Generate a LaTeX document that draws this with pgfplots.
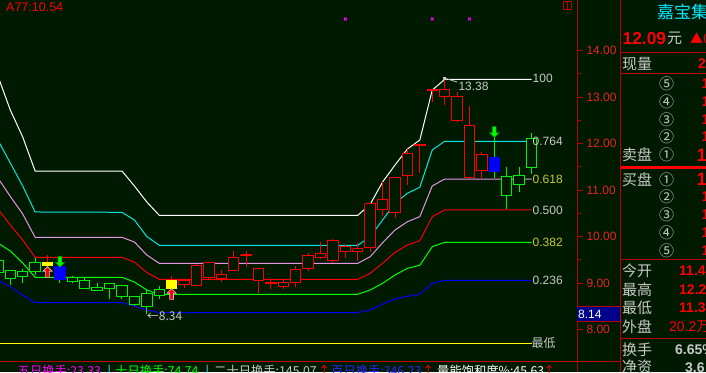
\documentclass[border=0pt]{standalone}
\usepackage{pgfplots}
\pgfplotsset{compat=1.18}
\usepackage{fontspec}
\setmainfont{Liberation Sans}
\newfontfamily\cjk{Noto Sans CJK SC}
\definecolor{bg}{RGB}{0,26,0}
\definecolor{axred}{RGB}{190,0,0}
\definecolor{labred}{RGB}{235,35,35}
\definecolor{cred}{RGB}{255,0,0}
\definecolor{cgreen}{RGB}{0,240,0}
\definecolor{lgreen}{RGB}{0,255,0}
\definecolor{lcyan}{RGB}{0,230,230}
\definecolor{lpink}{RGB}{230,150,230}
\definecolor{lblue}{RGB}{0,0,255}
\definecolor{cyellow}{RGB}{255,255,0}
\definecolor{tgrey}{RGB}{200,200,200}
\definecolor{tolive}{RGB}{200,200,50}
\definecolor{tmag}{RGB}{255,0,255}
\definecolor{navy}{RGB}{0,0,140}
\definecolor{pcyan}{RGB}{0,230,255}
\definecolor{arrcyan}{RGB}{120,220,255}
\definecolor{bblue}{RGB}{40,40,255}

\pgfdeclareplotmark{uparr}{%
 \pgfpathmoveto{\pgfqpoint{0pt}{5.4pt}}%
 \pgfpathlineto{\pgfqpoint{4.6pt}{0.8pt}}%
 \pgfpathlineto{\pgfqpoint{1.9pt}{0.8pt}}%
 \pgfpathlineto{\pgfqpoint{1.9pt}{-5.4pt}}%
 \pgfpathlineto{\pgfqpoint{-1.9pt}{-5.4pt}}%
 \pgfpathlineto{\pgfqpoint{-1.9pt}{0.8pt}}%
 \pgfpathlineto{\pgfqpoint{-4.6pt}{0.8pt}}%
 \pgfpathclose\pgfusepathqfillstroke}
\pgfdeclareplotmark{dnarr}{%
 \pgfpathmoveto{\pgfqpoint{0pt}{-5.4pt}}%
 \pgfpathlineto{\pgfqpoint{4.6pt}{-0.8pt}}%
 \pgfpathlineto{\pgfqpoint{1.9pt}{-0.8pt}}%
 \pgfpathlineto{\pgfqpoint{1.9pt}{5.4pt}}%
 \pgfpathlineto{\pgfqpoint{-1.9pt}{5.4pt}}%
 \pgfpathlineto{\pgfqpoint{-1.9pt}{-0.8pt}}%
 \pgfpathlineto{\pgfqpoint{-4.6pt}{-0.8pt}}%
 \pgfpathclose\pgfusepathqfillstroke}

% #1 wick colour, #2 body outline, #3 body fill, #4 index, #5 body top, #6 body bottom, #7 high, #8 low
\newcommand\candle[8]{%
 \pgfmathsetmacro\xa{#4-0.42}\pgfmathsetmacro\xb{#4+0.42}%
 \edef\temp{\noexpand\addplot[#1,line width=1pt,forget plot] coordinates {(#4,#7) (#4,#8)};
 \noexpand\addplot[draw=#2,fill=#3,line width=1pt,line join=miter,forget plot] coordinates {(\xa,#5) (\xb,#5) (\xb,#6) (\xa,#6) (\xa,#5)};}%
 \temp}

\begin{document}
\begin{tikzpicture}
\useasboundingbox (0,0) rectangle (706pt,372pt);
\clip (0,0) rectangle (706pt,372pt);
\fill[bg] (0,0) rectangle (706pt,372pt);
\begin{axis}[at={(0pt,0pt)}, anchor=south west,
 width=577pt, height=372pt, scale only axis,
 xmin=-0.83, xmax=45.665, ymin=7.0897, ymax=15.0897,
 axis x line=none, axis y line*=right,
 axis line style={axred, line width=1pt, -},
 ytick={8,9,...,14}, minor ytick={8.5,9.5,...,13.5},
 tick align=outside, major tick length=6pt, minor tick length=3.5pt,
 tick style={axred, line width=1pt},
 /pgf/number format/assume math mode=true,
 yticklabel={\pgfmathprintnumber[fixed,fixed zerofill,precision=2]{\tick}},
 yticklabel style={text=labred, font=\fontsize{12}{12}\selectfont},
 clip=true]

% Fibonacci channel lines
\addplot[white, line width=1pt] coordinates {(-1,13.455) (0,12.724) (1,12.144) (2,11.412) (9,11.412) (10,11.090) (11,10.746) (12,10.460) (28,10.460) (29,10.696) (30,11.176) (31,11.541) (32,11.885) (33,12.079) (34,13.154) (35,13.38) (42,13.38)};
\addplot[lcyan, line width=1pt] coordinates {(-1,12.079) (0,11.584) (1,11.090) (2,10.531) (9,10.524) (10,10.358) (11,10.004) (12,9.814) (28,9.814) (29,10.0) (30,10.358) (31,10.718) (32,10.933) (33,11.062) (34,11.864) (35,12.051) (42,12.051)};
\addplot[lpink, line width=1pt] coordinates {(-1,11.262) (0,10.866) (1,10.488) (2,9.986) (9,9.986) (10,9.885) (11,9.606) (12,9.427) (28,9.427) (29,9.569) (30,9.870) (31,10.144) (32,10.322) (33,10.430) (34,11.090) (35,11.240) (42,11.240)};
\addplot[cred, line width=1pt] coordinates {(-1,10.595) (0,10.251) (1,9.928) (2,9.556) (9,9.556) (10,9.455) (11,9.229) (12,9.083) (28,9.083) (29,9.212) (30,9.427) (31,9.664) (32,9.821) (33,9.913) (34,10.430) (35,10.574) (42,10.574)};
\addplot[lgreen, line width=1pt] coordinates {(-1,9.864) (0,9.692) (1,9.434) (2,9.126) (9,9.126) (10,9.025) (11,8.853) (12,8.761) (28,8.761) (29,8.853) (30,8.997) (31,9.176) (32,9.320) (33,9.384) (34,9.784) (35,9.879) (42,9.879)};
\addplot[lblue, line width=1pt] coordinates {(-1,9.068) (0,8.918) (1,8.746) (2,8.580) (9,8.580) (10,8.509) (11,8.423) (12,8.369) (28,8.369) (29,8.423) (30,8.552) (31,8.660) (32,8.718) (33,8.767) (34,8.997) (35,9.062) (42,9.062)};
\addplot[cyellow, line width=1pt] coordinates {(-1,7.707) (42,7.707)};

% candles: green
\candle{cgreen}{cgreen}{bg}{-1}{9.498}{9.229}{9.498}{9.229}
\candle{cgreen}{cgreen}{bg}{0}{9.277}{9.096}{9.29}{8.967}
\candle{cgreen}{cgreen}{bg}{1}{9.255}{9.139}{9.311}{8.997}
\candle{cgreen}{cgreen}{bg}{2}{9.455}{9.247}{9.548}{9.169}
\candle{cgreen}{cgreen}{bg}{5}{9.126}{9.032}{9.161}{9.004}
\candle{cgreen}{cgreen}{bg}{6}{9.058}{8.881}{9.139}{8.881}
\candle{cgreen}{cgreen}{bg}{7}{8.911}{8.838}{8.997}{8.838}
\candle{cgreen}{cgreen}{bg}{8}{8.997}{8.881}{8.997}{8.666}
\candle{cgreen}{cgreen}{bg}{9}{8.954}{8.709}{8.954}{8.67}
\candle{cgreen}{cgreen}{bg}{10}{8.718}{8.552}{8.718}{8.509}
\candle{cgreen}{cgreen}{bg}{11}{8.782}{8.498}{8.853}{8.34}
\candle{cgreen}{cgreen}{bg}{12}{8.868}{8.739}{8.939}{8.649}
\candle{cgreen}{cgreen}{bg}{40}{11.294}{10.885}{11.492}{10.595}
\candle{cgreen}{cgreen}{bg}{41}{11.320}{11.122}{11.492}{10.967}
\candle{cgreen}{cgreen}{bg}{42}{12.118}{11.488}{12.229}{11.343}
% signal candles
\candle{cred}{cyellow}{cyellow}{3}{9.455}{9.376}{9.612}{9.376}
\candle{cred}{cyellow}{cyellow}{13}{9.068}{8.885}{9.154}{8.885}
\candle{cgreen}{lblue}{lblue}{4}{9.369}{9.083}{9.369}{8.993}
\candle{cgreen}{lblue}{lblue}{39}{11.713}{11.397}{12.150}{11.268}
% candles: red
\candle{cred}{cred}{bg}{14}{9.068}{8.976}{9.068}{8.903}
\candle{cred}{cred}{bg}{15}{9.384}{8.954}{9.412}{8.954}
\candle{cred}{cred}{bg}{16}{9.449}{9.126}{9.449}{9.090}
\candle{cred}{cred}{bg}{17}{9.197}{9.096}{9.284}{9.025}
\candle{cred}{cred}{bg}{18}{9.556}{9.268}{9.692}{9.268}
\candle{cred}{cred}{bg}{19}{9.609}{9.589}{9.692}{9.354}
\candle{cred}{cred}{bg}{20}{9.320}{9.053}{9.320}{8.795}
\candle{cred}{cred}{bg}{21}{9.020}{9.000}{9.068}{8.868}
\candle{cred}{cred}{bg}{22}{9.019}{8.933}{9.068}{8.881}
\candle{cred}{cred}{bg}{23}{9.298}{9.019}{9.369}{8.924}
\candle{cred}{cred}{bg}{24}{9.599}{9.311}{9.649}{9.268}
\candle{cred}{cred}{bg}{25}{9.642}{9.556}{9.885}{9.513}
\candle{cred}{cred}{bg}{26}{9.922}{9.492}{9.950}{9.440}
\candle{cred}{cred}{bg}{27}{9.793}{9.685}{9.853}{9.535}
\candle{cred}{cred}{bg}{28}{9.735}{9.685}{9.870}{9.483}
\candle{cred}{cred}{bg}{29}{10.703}{9.771}{10.703}{9.677}
\candle{cred}{cred}{bg}{30}{10.804}{10.589}{11.182}{10.445}
\candle{cred}{cred}{bg}{31}{11.277}{10.524}{11.277}{10.408}
\candle{cred}{cred}{bg}{32}{11.793}{11.320}{11.885}{11.111}
\candle{cred}{cred}{bg}{33}{11.988}{11.968}{11.988}{11.376}
\candle{cred}{cred}{bg}{34}{13.158}{13.138}{13.170}{12.890}
\candle{cred}{cred}{bg}{35}{13.169}{13.019}{13.38}{12.825}
\candle{cred}{cred}{bg}{36}{13.019}{12.509}{13.111}{12.466}
\candle{cred}{cred}{bg}{37}{12.395}{11.277}{12.810}{11.277}
\candle{cred}{cred}{bg}{38}{11.771}{11.423}{11.821}{11.268}

% signal arrows
\addplot[only marks, mark=uparr, mark options={fill=cred, draw=tgrey, line width=0.6pt}] coordinates {(3,9.240) (13,8.767)};
\addplot[only marks, mark=dnarr, mark options={fill=lgreen, draw={rgb,255:red,0;green,150;blue,0}, line width=0.6pt}] coordinates {(4,9.462) (39,12.251)};
% top markers
\addplot[only marks, mark=x, mark size=2pt, tmag, line width=1pt] coordinates {(27,14.681) (34,14.681) (37,14.681)};
% peak annotation
\addplot[tgrey, line width=0.8pt] coordinates {(35.05,13.40) (35.29,13.385) (35.7,13.35) (36.02,13.326)};
\addplot[only marks, mark=square*, mark size=1pt, tgrey] coordinates {(35,13.40)};

\node[anchor=west, inner sep=0, text=tgrey, font=\fontsize{12}{12}\selectfont] at (axis cs:36.1,13.24) {13.38};
\node[anchor=west, inner sep=0, text=tgrey, font=\cjk\fontsize{12}{12}\selectfont] at (axis cs:10.99,8.279) {←8.34};
\node[anchor=west, inner sep=0, text=tgrey, font=\fontsize{12}{12}\selectfont] at (axis cs:42.08,13.40) {100};
\node[anchor=west, inner sep=0, text=tgrey, font=\fontsize{12}{12}\selectfont] at (axis cs:42.08,12.051) {0.764};
\node[anchor=west, inner sep=0, text=tolive, font=\fontsize{12}{12}\selectfont] at (axis cs:42.08,11.240) {0.618};
\node[anchor=west, inner sep=0, text=tgrey, font=\fontsize{12}{12}\selectfont] at (axis cs:42.08,10.574) {0.500};
\node[anchor=west, inner sep=0, text=tolive, font=\fontsize{12}{12}\selectfont] at (axis cs:42.08,9.879) {0.382};
\node[anchor=west, inner sep=0, text=tgrey, font=\fontsize{12}{12}\selectfont] at (axis cs:42.08,9.062) {0.236};
\node[anchor=west, inner sep=0, text=tgrey, font=\cjk\fontsize{12}{12}\selectfont] at (axis cs:42.0,7.707) {最低};
\end{axis}

% interface elements in pixel coordinates
\begin{scope}[shift={(0pt,372pt)}, x=1pt, y=-1pt]
\node[anchor=west, inner sep=0, text=cred, font=\fontsize{12.5}{13}\selectfont] at (6,7) {A77:10.54};
\draw[axred, line width=1pt] (563.5,1.5) rectangle (571.5,10);
\draw[axred, line width=1pt] (567.5,1.5) -- (567.5,10);
\draw[axred, line width=1pt] (0,361.7) -- (620.5,361.7);
\draw[axred, line width=1pt] (620.5,0) -- (620.5,372);
% cursor price box
\fill[navy] (577,307) rectangle (620,321.5);
\draw[axred, line width=1pt] (577,306.7) -- (620,306.7) (577,321.7) -- (620,321.7);
\node[anchor=west, inner sep=0, text=white, font=\fontsize{12}{12}\selectfont] at (578,314.2) {8.14};
% bottom indicator line
\begin{scope}[every node/.style={anchor=base west, inner sep=0, font=\cjk\fontsize{12.3}{14}\selectfont}]
\node[text=tmag] at (17.5,375) {五日换手:23.33};
\node[text=arrcyan] at (103,375) {↓};
\node[text=lgreen] at (115,375) {十日换手:74.74};
\node[text=arrcyan] at (201,375) {↓};
\node[text=tgrey] at (214,375) {二十日换手:145.07};
\node[text=cred] at (318,375) {↑};
\node[text=bblue] at (331,375) {百日换手:346.23};
\node[text=cred] at (422,375) {↑};
\node[text=white] at (437,375) {量能饱和度\%:45.63};
\node[text=cred] at (543,375) {↑};
\end{scope}
% right quote panel
\draw[axred, line width=1pt] (620.5,52.3) -- (706,52.3) (620.5,73.3) -- (706,73.3) (620.5,260) -- (706,260) (620.5,338.3) -- (706,338.3);
\draw[cred, line width=3pt] (620.5,167.5) -- (706,167.5);
\node[anchor=west, inner sep=0, text=pcyan, font=\cjk\fontsize{17}{17}\selectfont] at (657,12) {嘉宝集团};
\node[anchor=west, inner sep=0, text=cred, font=\bfseries\fontsize{17.3}{17}\selectfont] at (622.5,38.5) {12.09};
\node[anchor=west, inner sep=0, text=tgrey, font=\cjk\fontsize{15}{15}\selectfont] at (667,38.5) {元};
\node[anchor=west, inner sep=0, text=cred, font=\cjk\fontsize{13}{13}\selectfont] at (690,38.5) {▲0.80};
\begin{scope}[every node/.style={anchor=west, inner sep=0, text=tgrey, font=\cjk\fontsize{15}{15}\selectfont}]
\node at (622,64) {现量};
\node at (659,84) {⑤};
\node at (659,102) {④};
\node at (659,119.5) {③};
\node at (659,137) {②};
\node at (622,155) {卖盘};
\node at (659,155) {①};
\node at (622,179.5) {买盘};
\node at (659,179.5) {①};
\node at (659,197) {②};
\node at (659,215) {③};
\node at (659,233) {④};
\node at (659,251) {⑤};
\node at (622,270.5) {今开};
\node at (622,290) {最高};
\node at (622,308) {最低};
\node at (622,326.5) {外盘};
\node at (622,350) {换手};
\node at (622,367) {净资};
\end{scope}
\begin{scope}[every node/.style={anchor=west, inner sep=0, text=cred, font=\bfseries\fontsize{14}{14}\selectfont}]
\node at (698,64) {231};
\node at (701.5,84) {12.14};
\node at (701.5,102) {12.13};
\node at (701.5,119.5) {12.12};
\node at (701.5,137) {12.11};
\node at (701.5,197) {12.08};
\node at (701.5,215) {12.07};
\node at (701.5,233) {12.06};
\node at (701.5,251) {12.05};
\node[font=\bfseries\fontsize{18}{18}\selectfont] at (696.5,155) {12.10};
\node[font=\bfseries\fontsize{18}{18}\selectfont] at (696.5,179.5) {12.09};
\node at (679,271) {11.49};
\node at (679,290) {12.23};
\node at (679,308) {11.34};
\node[font=\fontsize{14}{14}\selectfont] at (669,327) {20.2\cjk 万};
\node[text=tgrey] at (675,350) {6.65\%};
\node[text=tgrey] at (685,368) {3.6};
\end{scope}
\end{scope}
\end{tikzpicture}
\end{document}
